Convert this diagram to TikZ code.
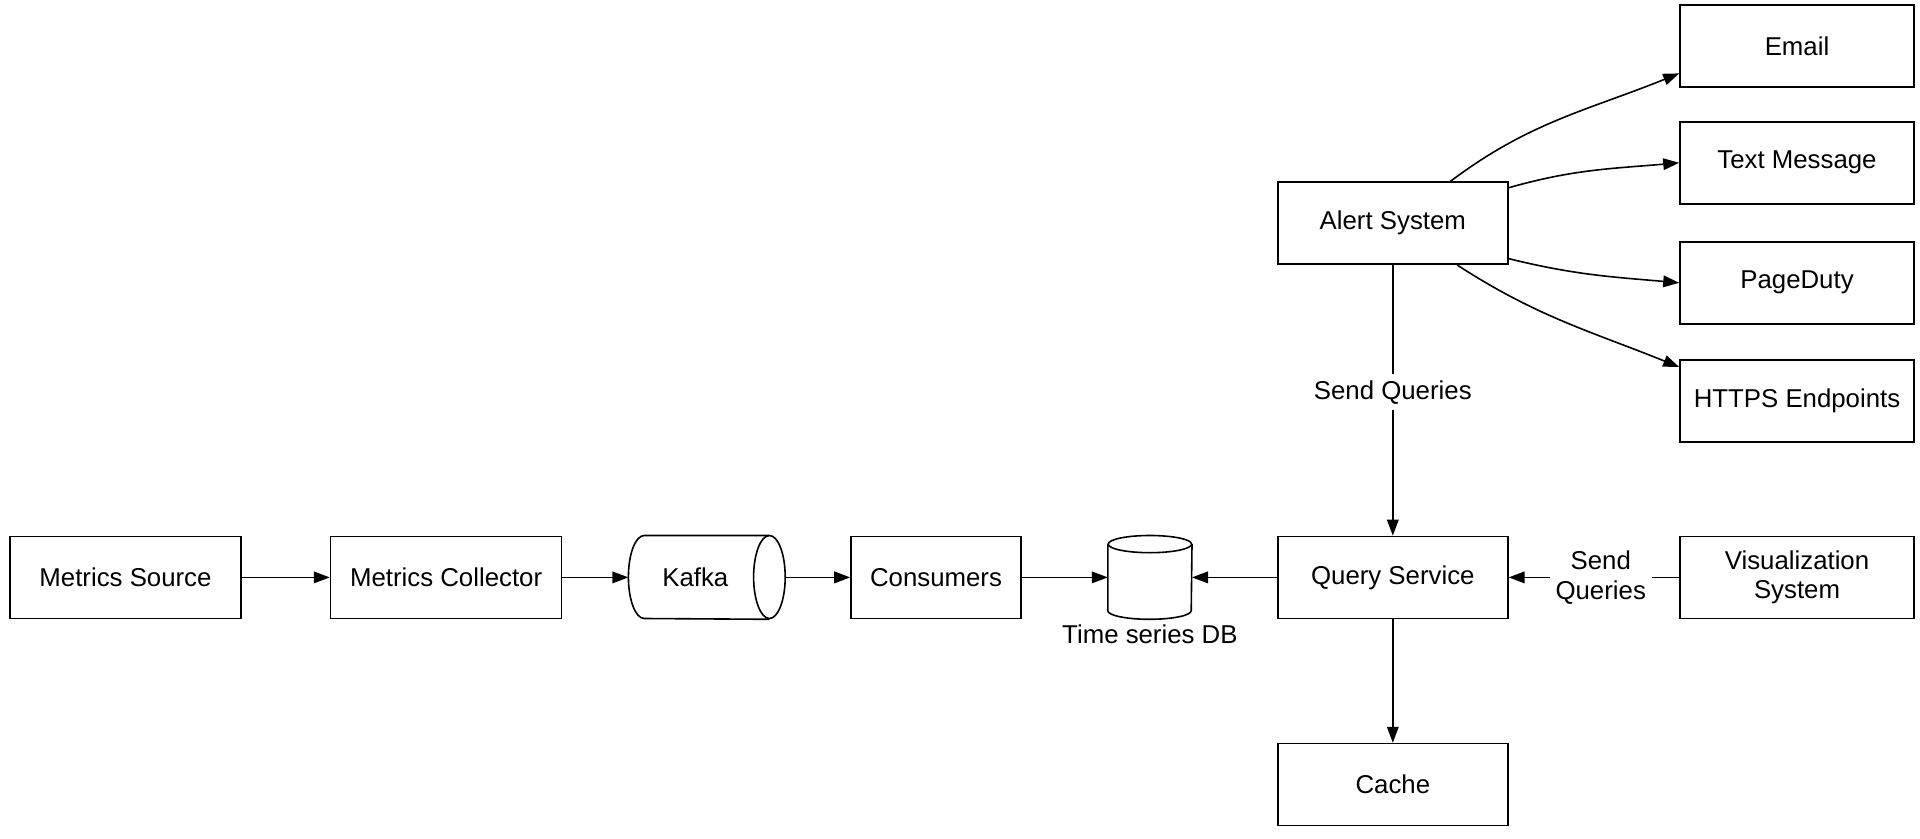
\documentclass[tikz,border=0pt]{standalone}
\usepackage{fontspec}
\setmainfont{Liberation Sans}
\usetikzlibrary{arrows.meta,positioning}

\tikzset{
  box/.style={draw,line width=0.8pt,minimum height=41pt,inner sep=0pt,align=center},
  wide/.style={box,minimum width=115.5pt},
  side/.style={box,minimum width=117pt},
  link/.style={-{Triangle[length=8pt,width=5.8pt]},line width=0.8pt},
  tag/.style={fill=white,inner sep=3pt,align=center}
}

\begin{document}
\begin{tikzpicture}[x=0.5pt,y=0.5pt,every node/.style={font=\fontsize{12.9}{14.7}\selectfont}]
\useasboundingbox (0,0) rectangle (1920,-839);
% ingest pipeline
\node[wide] (src) at (125.5,-577.4) {Metrics Source};
\node[wide,right=44pt of src] (col) {Metrics Collector};
\node[minimum width=78pt,minimum height=41.5pt,inner sep=0pt,right=33pt of col,
      label={[xshift=-5.75pt]center:Kafka}] (kafka) {};
\node[box,minimum width=85pt,right=32.5pt of kafka] (cons) {Consumers};
\node[minimum width=41.7pt,minimum height=41.5pt,inner sep=0pt,right=43pt of cons] (db) {};
\node[below=-1pt of db] (dblabel) {Time series DB};
% kafka and db outlines
\draw[line width=0.8pt] ([xshift=-7.9pt]kafka.north east) arc[start angle=90,end angle=450,x radius=7.9pt,y radius=20.75pt];
\draw[line width=0.8pt] ([xshift=-7.9pt]kafka.north east) -- ([xshift=7.9pt]kafka.north west)
  arc[start angle=90,end angle=270,x radius=7.9pt,y radius=20.75pt] -- ([xshift=-7.9pt]kafka.south east);
\draw[line width=0.8pt] ([yshift=-4.3pt]db.north) ellipse[x radius=20.85pt,y radius=4.3pt];
\draw[line width=0.8pt] ([yshift=-4.3pt]db.north west) -- ([yshift=4.3pt]db.south west)
  arc[start angle=180,end angle=360,x radius=20.85pt,y radius=4.3pt] -- ([yshift=-4.3pt]db.north east);
% query side
\node[wide,minimum width=115pt,right=42.5pt of db] (qs) {Query Service};
\node[wide,minimum width=115pt,above=135.3pt of qs] (alert) {Alert System};
\node[wide,minimum width=115pt,below=61.8pt of qs] (cache) {Cache};
\node[side,right=85.3pt of qs] (viz) {Visualization\\System};
% alert targets
\node[side,above=46.5pt of viz] (https) {HTTPS Endpoints};
\node[side,above=17.2pt of https] (pd) {PageDuty};
\node[side,above=18.2pt of pd] (sms) {Text Message};
\node[side,above=16.5pt of sms] (email) {Email};

\draw[link] (src)--(col);
\draw[link] (col)--(kafka);
\draw[link] (kafka)--(cons);
\draw[link] (cons)--(db);
\draw[link] (qs)--(db);
\draw[link] (viz)--node[tag,pos=0.46]{Send\\Queries}(qs);
\draw[link] (alert)--node[tag,pos=0.47]{Send Queries}(qs);
\draw[link] (qs)--(cache);
\draw[link] (alert.36) to[out=37,in=202] (email.193);
\draw[link] (alert.17) to[out=16,in=185] (sms.west);
\draw[link] (alert.-17) to[out=-14,in=175] (pd.west);
\draw[link] (alert.-33) to[out=-33,in=158] (https.164);
\end{tikzpicture}
\end{document}
